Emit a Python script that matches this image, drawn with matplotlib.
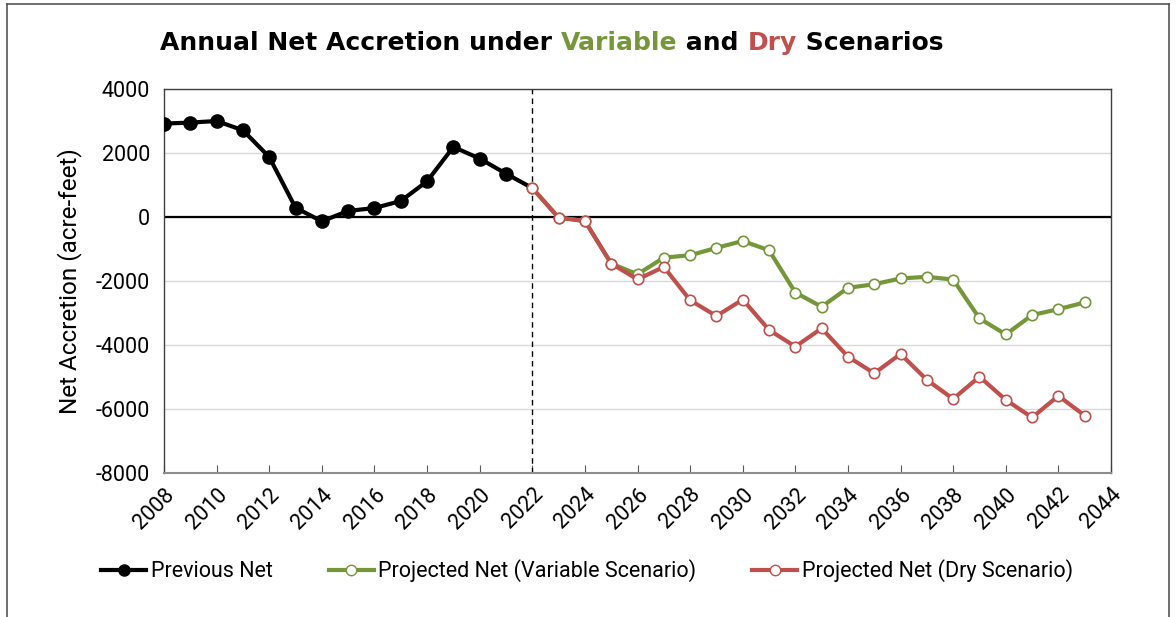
import numpy as np
import matplotlib
matplotlib.use('Agg')
import matplotlib.pyplot as plt
from matplotlib.lines import Line2D

plt.rcParams['axes.unicode_minus'] = False

# Data
prev_years = list(range(2008, 2023))
prev_net = [2920, 2950, 3000, 2710, 1875, 290, -135, 190, 280, 500, 1115, 2190, 1825, 1355, 905]

proj_years = list(range(2022, 2044))
dry_net = [905, -20, -125, -1455, -1950, -1560, -2600, -3095, -2580, -3530, -4050,
           -3480, -4365, -4885, -4280, -5090, -5685, -4990, -5715, -6265, -5590, -6205]
variable_net = [905, -20, -125, -1455, -1790, -1270, -1195, -965, -750, -1040, -2360,
                -2805, -2215, -2100, -1920, -1870, -1955, -3170, -3670, -3065, -2880, -2670]

x_ticks = list(range(2008, 2045, 2))
y_ticks = list(range(-8000, 4001, 2000))

GREEN = '#76963a'
RED = '#c0504d'
BLACK = '#000000'

FONT = 'Roboto'
TITLE_FONT = 'DejaVu Sans'

W, H = 1176, 617
fig = plt.figure(figsize=(W / 100, H / 100), dpi=100)
ax = fig.add_axes([164 / W, 1 - 473 / H, (1111 - 164) / W, (473 - 89) / H])

# Figure frame (left, top, right)
fx0, fx1, fy1 = 7 / W, 1169 / W, 1 - 4 / H
for xs, ys in [([fx0, fx0], [0, fy1]), ([fx0, fx1], [fy1, fy1]), ([fx1, fx1], [0, fy1])]:
    fig.add_artist(Line2D(xs, ys, transform=fig.transFigure, color='#555555', lw=1.2))

ax.set_xlim(2008, 2044)
ax.set_ylim(-8000, 4000)

ax.grid(axis='y', color='#d9d9d9', lw=1)
ax.set_axisbelow(True)
ax.axhline(0, color='black', lw=1.6, zorder=2)
ax.axvline(2022, color='black', lw=1, ls=(0, (4, 3)), zorder=2)

ax.plot(proj_years, variable_net, color=GREEN, lw=3, marker='o', ms=7.5,
        mfc='white', mec=GREEN, mew=1.2, zorder=3)
ax.plot(proj_years, dry_net, color=RED, lw=3, marker='o', ms=7.5,
        mfc='white', mec=RED, mew=1.2, zorder=4)
# previous net: last segment sits under the red start marker
ax.plot(prev_years[:-1], prev_net[:-1], color=BLACK, lw=3, marker='o', ms=9.5, zorder=5)
ax.plot(prev_years[-2:], prev_net[-2:], color=BLACK, lw=3, zorder=3.5)

ax.set_xticks(x_ticks)
ax.set_yticks(y_ticks)
ax.tick_params(axis='x', direction='in', length=6, color='#595959', labelsize=15.5, pad=8)
ax.tick_params(axis='y', length=0, labelsize=15.5, pad=10)
for lab in ax.get_xticklabels():
    lab.set_rotation(45)
    lab.set_ha('right')
    lab.set_rotation_mode('anchor')
    lab.set_fontfamily(FONT)
for lab in ax.get_yticklabels():
    lab.set_fontfamily(FONT)

for name, sp in ax.spines.items():
    sp.set_color('#404040')
    sp.set_linewidth(1)
ax.spines['bottom'].set_color('#8c8c8c')
ax.spines['bottom'].set_linewidth(1.5)

ax.set_ylabel('Net Accretion (acre-feet)', fontsize=17.5, fontfamily=FONT, labelpad=10)

# Title with coloured words
parts = [('Annual Net Accretion under ', BLACK), ('Variable', GREEN), (' and ', BLACK),
         ('Dry', RED), (' Scenarios', BLACK)]
renderer = fig.canvas.get_renderer()
x = 160 / W
for txt, col in parts:
    t = fig.text(x, 1 - 43 / H, txt, color=col, fontsize=18, fontweight='bold',
                 fontfamily=TITLE_FONT, va='center', ha='left')
    bb = t.get_window_extent(renderer=renderer)
    x += bb.width / fig.bbox.width

# Legend
handles = [
    Line2D([], [], color=BLACK, lw=3, marker='o', ms=8),
    Line2D([], [], color=GREEN, lw=3, marker='o', ms=7.5, mfc='white', mec=GREEN),
    Line2D([], [], color=RED, lw=3, marker='o', ms=7.5, mfc='white', mec=RED),
]
labels = ['Previous Net', 'Projected Net (Variable Scenario)', 'Projected Net (Dry Scenario)']
fig.legend(handles, labels, loc='center', bbox_to_anchor=(587 / W, 1 - 571 / H), ncol=3,
           frameon=False, handlelength=2.1, handletextpad=0.2, columnspacing=2.6,
           prop={'family': FONT, 'size': 15.5})

fig.savefig('out.png', dpi=100)
